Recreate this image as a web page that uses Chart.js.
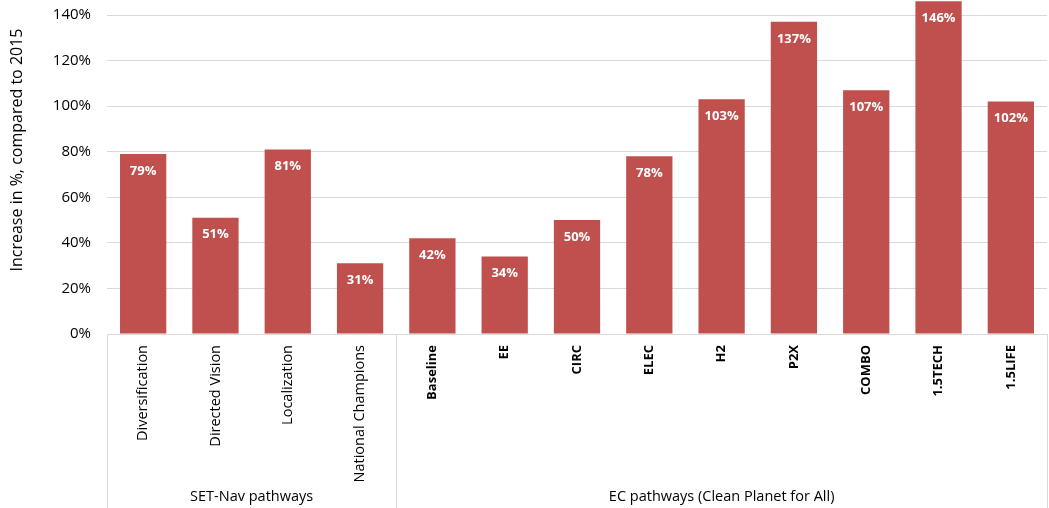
<!DOCTYPE html>
<html>
<head>
<meta charset="utf-8">
<script src="https://cdn.jsdelivr.net/npm/chart.js@4"></script>
<style>
  html, body { margin: 0; padding: 0; background: #fff; }
  #wrap { width: 1049px; height: 508px; }
</style>
</head>
<body>
<div id="wrap"><canvas id="chart"></canvas></div>
<script>
// pathways, grouped as on the category axis
const PATHWAYS = ["Diversification", "Directed Vision", "Localization", "National Champions",
  "Baseline", "EE", "CIRC", "ELEC", "H2", "P2X", "COMBO", "1.5TECH", "1.5LIFE"];
const INCREASE = [79, 51, 81, 31, 42, 34, 50, 78, 103, 137, 107, 146, 102];
const GROUPS = ["SET-Nav pathways", "EC pathways (Clean Planet for All)"];
const GROUP_SIZES = [4, 9];
const Y_TITLE = "Increase in %, compared to 2015";

const BAR_COLOR = "#c0504d";
const FONT = "'Open Sans', 'Liberation Sans', sans-serif";

// white % labels inside the top of each bar
const barLabels = {
  id: "barLabels",
  afterDatasetsDraw(chart) {
    const ctx = chart.ctx;
    const meta = chart.getDatasetMeta(0);
    ctx.save();
    ctx.fillStyle = "#fff";
    ctx.font = "bold 13px " + FONT;
    ctx.textAlign = "center";
    ctx.textBaseline = "middle";
    meta.data.forEach((bar, i) => {
      ctx.fillText(INCREASE[i] + "%", bar.x, bar.y + 17);
    });
    ctx.restore();
  }
};

// group separators, group names and the y title
const groupAxis = {
  id: "groupAxis",
  afterDraw(chart) {
    const ctx = chart.ctx;
    const area = chart.chartArea;
    const step = (area.right - area.left) / PATHWAYS.length;
    ctx.save();
    ctx.strokeStyle = "#d9d9d9";
    ctx.lineWidth = 1;
    let start = 0;
    const edges = [0];
    GROUP_SIZES.forEach(n => { start += n; edges.push(start); });
    edges.forEach(e => {
      const px = Math.round(area.left + e * step) + 0.5;
      ctx.beginPath();
      ctx.moveTo(px, area.bottom);
      ctx.lineTo(px, chart.height);
      ctx.stroke();
    });
    ctx.fillStyle = "#000";
    ctx.font = "14.5px " + FONT;
    ctx.textAlign = "center";
    ctx.textBaseline = "middle";
    GROUPS.forEach((g, i) => {
      const cx = area.left + (edges[i] + edges[i + 1]) / 2 * step;
      ctx.fillText(g, cx, 497);
    });

    ctx.translate(17, 150);
    ctx.rotate(-Math.PI / 2);
    ctx.font = "16px " + FONT;
    ctx.fillText(Y_TITLE, 0, 0);
    ctx.restore();
  }
};

new Chart(document.getElementById("chart"), {
  type: "bar",
  data: {
    labels: PATHWAYS,
    datasets: [{
      data: INCREASE,
      backgroundColor: BAR_COLOR,
      borderWidth: 0,
      barPercentage: 0.64,
      categoryPercentage: 1,
      clip: false
    }]
  },
  options: {
    responsive: true,
    maintainAspectRatio: false,
    animation: false,
    layout: { padding: { top: 15, right: 2, left: 0, bottom: 0 } },
    plugins: {
      legend: { display: false },
      tooltip: { enabled: false }
    },
    scales: {
      x: {
        grid: { display: false },
        border: { color: "#d9d9d9" },
        ticks: {
          color: "#000",
          minRotation: 90,
          maxRotation: 90,
          autoSkip: false,
          padding: 3,
          font: (c) => (c.index >= 4
            ? { family: FONT, size: 13, weight: "bold" }
            : { family: FONT, size: 14.5, weight: "normal" })
        },
        afterFit(scale) { scale.height = 174; }
      },
      y: {
        min: 0,
        max: 140,
        grid: { color: "#d9d9d9", drawTicks: false },
        border: { display: false },
        ticks: {
          stepSize: 20,
          color: "#000",
          padding: 16,
          font: { family: FONT, size: 15 },
          callback: v => v + "%"
        },
        afterFit(scale) {
          scale.width = 107;
          scale.paddingTop = 0;
          scale.paddingBottom = 0;
        }
      }
    }
  },
  plugins: [barLabels, groupAxis]
});
</script>
</body>
</html>
